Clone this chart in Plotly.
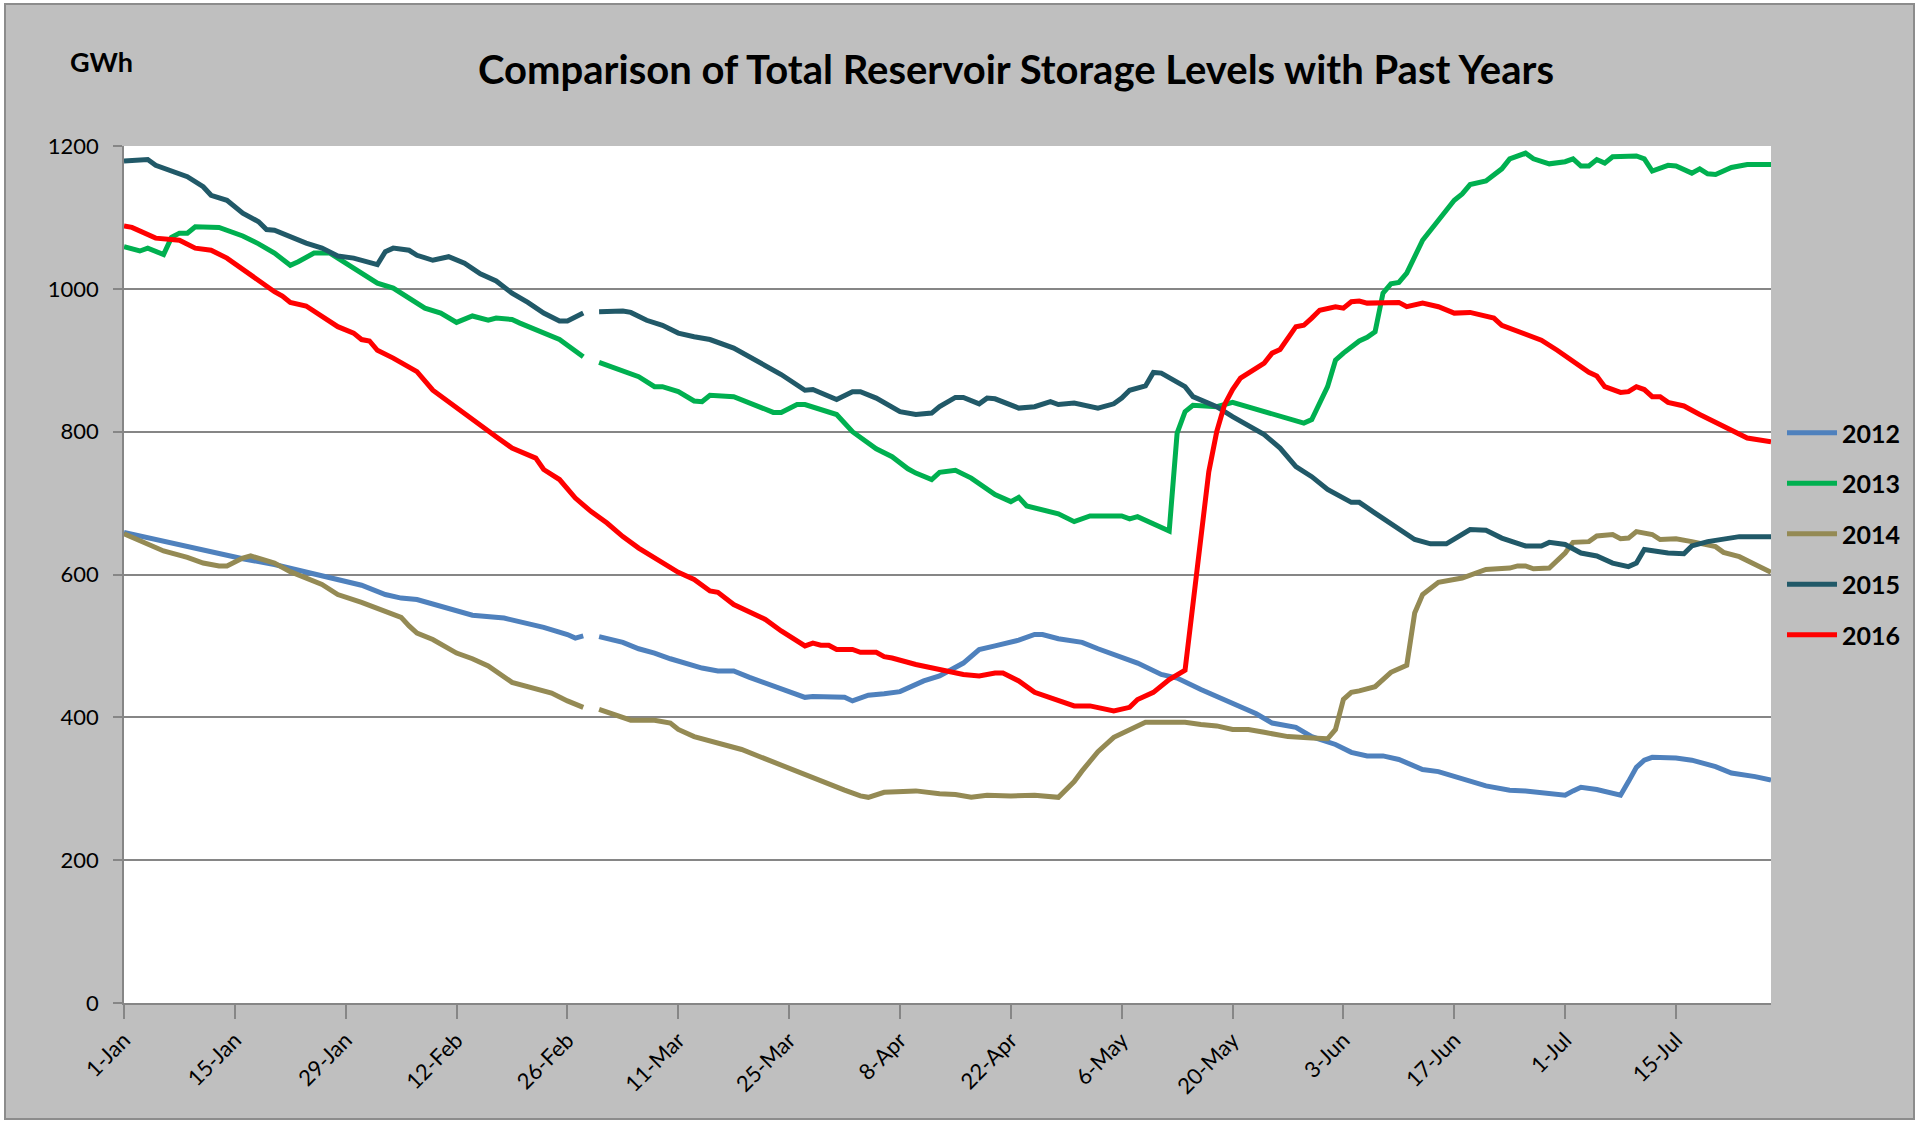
import plotly.graph_objects as go

# ---------------- data (day index from 1 Jan; None = missing 29 Feb in non-leap years) ----------------
TICK_DAYS = [0, 14, 28, 42, 56, 70, 84, 98, 112, 126, 140, 154, 168, 182, 196]
TICK_LABELS = ["1-Jan", "15-Jan", "29-Jan", "12-Feb", "26-Feb", "11-Mar", "25-Mar", "8-Apr",
               "22-Apr", "6-May", "20-May", "3-Jun", "17-Jun", "1-Jul", "15-Jul"]
Y_TICKS = [0, 200, 400, 600, 800, 1000, 1200]

DAYS_2012 = [0, 2, 7, 11, 15, 19, 24, 28, 30, 33, 35, 37, 39, 41, 44, 48, 51, 53, 56, 57, 58, 59,
             60, 63, 65, 67, 69, 71, 73, 75, 77, 79, 83, 86, 87, 91, 92, 94, 96, 98, 101, 103, 106,
             108, 110, 113, 115, 116, 118, 121, 123, 126, 128, 131, 133, 136, 139, 140, 143, 145,
             148, 150, 152, 153, 155, 157, 159, 161, 164, 166, 172, 175, 177, 179, 182, 183, 184,
             186, 189, 190, 191, 192, 193, 196, 198, 201, 203, 206, 208]
GWH_2012 = [659, 654, 641, 632, 622, 614, 601, 590, 585, 572, 567, 565, 559, 552, 543, 539, 531, 526,
            516, 511, 514, None, 513, 505, 496, 490, 482, 476, 469, 465, 465, 456, 439, 428, 429, 428,
            423, 431, 433, 436, 451, 458, 476, 495, 500, 508, 516, 516, 510, 505, 496, 484, 476, 460,
            455, 439, 425, 420, 405, 392, 386, 373, 365, 362, 351, 346, 346, 341, 327, 324, 304, 298,
            297, 294, 291, 297, 302, 299, 291, 310, 330, 340, 344, 343, 340, 331, 322, 317, 312]

DAYS_2013 = [0, 2, 3, 5, 6, 7, 8, 9, 12, 13, 15, 17, 19, 21, 22, 24, 26, 28, 32, 34, 36, 38, 40, 42,
             44, 46, 47, 49, 50, 53, 55, 56, 58, 59, 60, 63, 65, 67, 68, 70, 72, 73, 74, 77, 79, 82,
             83, 85, 86, 90, 92, 95, 97, 99, 100, 102, 103, 105, 107, 110, 112, 113, 114, 118, 120,
             122, 126, 127, 128, 132, 133, 134, 135, 138, 140, 143, 145, 147, 149, 150, 151, 152,
             153, 154, 156, 157, 158, 159, 160, 161, 162, 163, 164, 166, 168, 169, 170, 172, 174,
             175, 177, 178, 180, 182, 183, 184, 185, 186, 187, 188, 191, 192, 193, 195, 196, 198,
             199, 200, 201, 203, 205, 208]
GWH_2013 = [1059, 1053, 1057, 1048, 1072, 1078, 1078, 1087, 1086, 1082, 1074, 1063, 1050, 1033, 1038,
            1050, 1050, 1036, 1008, 1001, 988, 973, 966, 953, 962, 956, 959, 957, 952, 939, 929, 921,
            905, None, 897, 885, 877, 863, 863, 856, 843, 842, 851, 849, 840, 827, 827, 838, 838, 824,
            800, 776, 765, 748, 742, 733, 743, 746, 735, 712, 702, 708, 696, 685, 674, 682, 682, 678,
            681, 661, 798, 828, 837, 835, 841, 831, 826, 818, 812, 817, 842, 863, 900, 910, 927, 932,
            940, 994, 1007, 1009, 1022, 1045, 1068, 1096, 1124, 1133, 1146, 1151, 1168, 1182, 1190,
            1182, 1175, 1178, 1182, 1172, 1172, 1181, 1176, 1185, 1186, 1182, 1165, 1173, 1172, 1162,
            1168, 1161, 1160, 1170, 1174, 1174]

DAYS_2014 = [0, 3, 5, 8, 10, 12, 13, 15, 16, 19, 21, 25, 27, 30, 32, 34, 35, 36, 37, 39, 42, 44, 46,
             49, 52, 54, 56, 58, 59, 60, 62, 64, 67, 69, 70, 72, 78, 80, 84, 88, 91, 93, 94, 96, 100,
             103, 105, 107, 109, 112, 115, 118, 120, 121, 122, 123, 125, 127, 129, 131, 134, 136, 138,
             140, 142, 144, 147, 150, 152, 153, 154, 155, 156, 158, 160, 162, 163, 164, 166, 169, 172,
             175, 176, 177, 178, 180, 182, 183, 185, 186, 188, 189, 190, 191, 193, 194, 196, 198, 201,
             202, 204, 206, 208]
GWH_2014 = [657, 642, 633, 624, 616, 612, 612, 623, 626, 616, 604, 586, 572, 561, 553, 545, 540, 528,
            518, 509, 490, 482, 472, 449, 439, 434, 423, 414, None, 411, 403, 396, 396, 392, 383, 373,
            355, 346, 328, 310, 298, 290, 288, 295, 297, 293, 292, 288, 291, 290, 291, 288, 310, 325,
            338, 352, 372, 383, 393, 393, 393, 390, 388, 383, 383, 379, 373, 371, 370, 383, 425, 435,
            437, 443, 463, 473, 546, 572, 589, 595, 607, 609, 612, 612, 608, 609, 630, 645, 646, 654,
            656, 650, 651, 660, 656, 649, 650, 646, 639, 631, 625, 614, 603]

DAYS_2015 = [0, 3, 4, 8, 10, 11, 13, 15, 17, 18, 19, 21, 23, 25, 27, 29, 31, 32, 33, 34, 36, 37, 39,
             41, 43, 45, 47, 49, 51, 53, 55, 56, 58, 59, 60, 63, 64, 66, 68, 70, 72, 74, 77, 79, 81,
             83, 86, 87, 90, 92, 93, 95, 98, 100, 102, 103, 105, 106, 108, 109, 110, 113, 115, 117,
             118, 120, 123, 125, 126, 127, 129, 130, 131, 133, 134, 135, 138, 140, 144, 146, 148, 150,
             152, 155, 156, 158, 161, 163, 165, 167, 170, 172, 174, 177, 179, 180, 182, 184, 186, 188,
             190, 191, 192, 194, 195, 197, 198, 200, 204, 208]
GWH_2015 = [1179, 1181, 1173, 1157, 1143, 1131, 1124, 1106, 1094, 1083, 1082, 1073, 1064, 1057, 1046,
            1043, 1036, 1034, 1052, 1057, 1054, 1047, 1040, 1045, 1036, 1021, 1011, 994, 981, 966, 955,
            955, 966, None, 968, 969, 967, 956, 949, 938, 933, 929, 917, 905, 893, 880, 858, 859, 845,
            856, 856, 847, 828, 824, 826, 835, 848, 848, 839, 847, 846, 833, 835, 842, 838, 840, 833,
            839, 847, 858, 864, 883, 882, 870, 863, 849, 835, 821, 796, 777, 751, 737, 719, 701, 701,
            686, 663, 649, 643, 643, 663, 662, 651, 640, 640, 645, 642, 630, 626, 616, 611, 616, 635,
            632, 630, 629, 640, 646, 653, 653]

DAYS_2016 = [0, 1, 4, 7, 9, 11, 13, 15, 17, 19, 20, 21, 23, 25, 27, 29, 30, 31, 32, 34, 37, 39, 42,
             44, 47, 49, 52, 53, 55, 57, 59, 61, 63, 65, 68, 70, 72, 74, 75, 77, 81, 83, 86, 87, 88,
             89, 90, 92, 93, 95, 96, 97, 100, 102, 104, 105, 106, 108, 110, 111, 113, 115, 117, 120,
             122, 125, 127, 128, 130, 132, 134, 137, 138, 139, 140, 141, 143, 144, 145, 146, 148, 149,
             150, 151, 153, 154, 155, 156, 157, 161, 162, 164, 166, 168, 170, 173, 174, 176, 177, 179,
             181, 183, 185, 186, 187, 189, 190, 191, 192, 193, 194, 195, 197, 199, 202, 205, 208]
GWH_2016 = [1088, 1086, 1071, 1068, 1057, 1054, 1043, 1027, 1013, 996, 990, 981, 976, 962, 947, 938,
            929, 927, 914, 903, 884, 858, 833, 816, 793, 777, 763, 747, 733, 707, 688, 672, 653, 637,
            616, 603, 593, 577, 575, 558, 537, 521, 500, 504, 501, 501, 495, 495, 491, 491, 485, 483,
            474, 469, 465, 463, 460, 458, 462, 462, 451, 435, 428, 416, 416, 409, 414, 425, 435, 453,
            466, 744, 800, 838, 859, 875, 889, 896, 910, 915, 947, 949, 959, 970, 975, 973, 982, 983,
            980, 981, 975, 980, 975, 966, 967, 959, 949, 940, 937, 928, 914, 898, 883, 878, 863, 855,
            856, 863, 859, 849, 849, 841, 836, 824, 807, 791, 786]

SERIES = [
    ("2012", DAYS_2012, GWH_2012, "#4F81BD"),
    ("2013", DAYS_2013, GWH_2013, "#00B050"),
    ("2014", DAYS_2014, GWH_2014, "#948A54"),
    ("2015", DAYS_2015, GWH_2015, "#215968"),
    ("2016", DAYS_2016, GWH_2016, "#FF0000"),
]

# ---------------- geometry of the plot area (pixels) ----------------
W, H = 1932, 1123
L, R, T, B = 124, 161, 146, 120
PW, PH = W - L - R, H - T - B


def px(xpix):
    return (xpix - L) / PW


def py(ypix):
    return (H - B - ypix) / PH


FONT = "Lato, 'Open Sans', sans-serif"
GRID = "#868686"
BG = "#BFBFBF"

fig = go.Figure()
for i, (name, days, vals, col) in enumerate(SERIES):
    fig.add_trace(go.Scatter(x=days, y=vals, name=name, mode="lines",
                             line=dict(color=col, width=5), connectgaps=False,
                             legendgroup=name))

fig.update_layout(
    width=W, height=H,
    margin=dict(l=L, r=R, t=T, b=B, pad=0),
    paper_bgcolor=BG, plot_bgcolor="white",
    font=dict(family=FONT, color="black"),
    title=dict(text="<b>Comparison of Total Reservoir Storage Levels with Past Years</b>",
               xref="container", yref="container", x=1016 / W, y=1 - 70 / H,
               xanchor="center", yanchor="middle",
               font=dict(family=FONT, size=40, color="black")),
    showlegend=True,
    legend=dict(x=px(1782), y=py(410), xanchor="left", yanchor="top",
                bgcolor="rgba(0,0,0,0)", borderwidth=0, tracegroupgap=15,
                font=dict(family=FONT, size=25, color="black", weight="bold"),
                itemwidth=50),
    xaxis=dict(range=[0, 208], tickmode="array", tickvals=TICK_DAYS, ticktext=TICK_LABELS,
               tickangle=-45, ticks="outside", ticklen=14, tickwidth=1.5, tickcolor=GRID,
               showline=True, linecolor=GRID, linewidth=1.5, showgrid=False, zeroline=False,
               tickfont=dict(family=FONT, size=22, color="black")),
    yaxis=dict(range=[0, 1200], tickmode="array", tickvals=Y_TICKS,
               ticktext=[str(v) for v in Y_TICKS],
               ticks="outside", ticklen=9, tickwidth=1.5, tickcolor=GRID,
               ticklabelstandoff=10,
               showline=True, linecolor=GRID, linewidth=1.5,
               showgrid=True, gridcolor=GRID, gridwidth=1.5, zeroline=False,
               tickfont=dict(family=FONT, size=22, color="black")),
    annotations=[dict(text="<b>GWh</b>", xref="paper", yref="paper", x=px(101), y=py(62),
                      xanchor="center", yanchor="middle", showarrow=False,
                      font=dict(family=FONT, size=27, color="black"))],
)

# white surround outside the chart frame and the frame itself
shapes = [
    dict(type="rect", xref="paper", yref="paper", x0=px(1914), x1=px(W + 20), y0=py(-20), y1=py(H + 20),
         fillcolor="white", line=dict(width=0), layer="above"),
    dict(type="rect", xref="paper", yref="paper", x0=px(-20), x1=px(W + 20), y0=py(1119), y1=py(H + 20),
         fillcolor="white", line=dict(width=0), layer="above"),
    dict(type="rect", xref="paper", yref="paper", x0=px(-20), x1=px(W + 20), y0=py(-20), y1=py(4),
         fillcolor="white", line=dict(width=0), layer="above"),
    dict(type="rect", xref="paper", yref="paper", x0=px(-20), x1=px(5), y0=py(-20), y1=py(H + 20),
         fillcolor="white", line=dict(width=0), layer="above"),
    dict(type="rect", xref="paper", yref="paper", x0=px(5), x1=px(1914), y0=py(1119), y1=py(4),
         fillcolor="rgba(0,0,0,0)", line=dict(color="#8C8C8C", width=2), layer="above"),
]
fig.update_layout(shapes=shapes)

fig.write_html("out.html",
               config={"displayModeBar": False},
               post_script="document.body.style.margin='0px';document.body.style.padding='0px';")
